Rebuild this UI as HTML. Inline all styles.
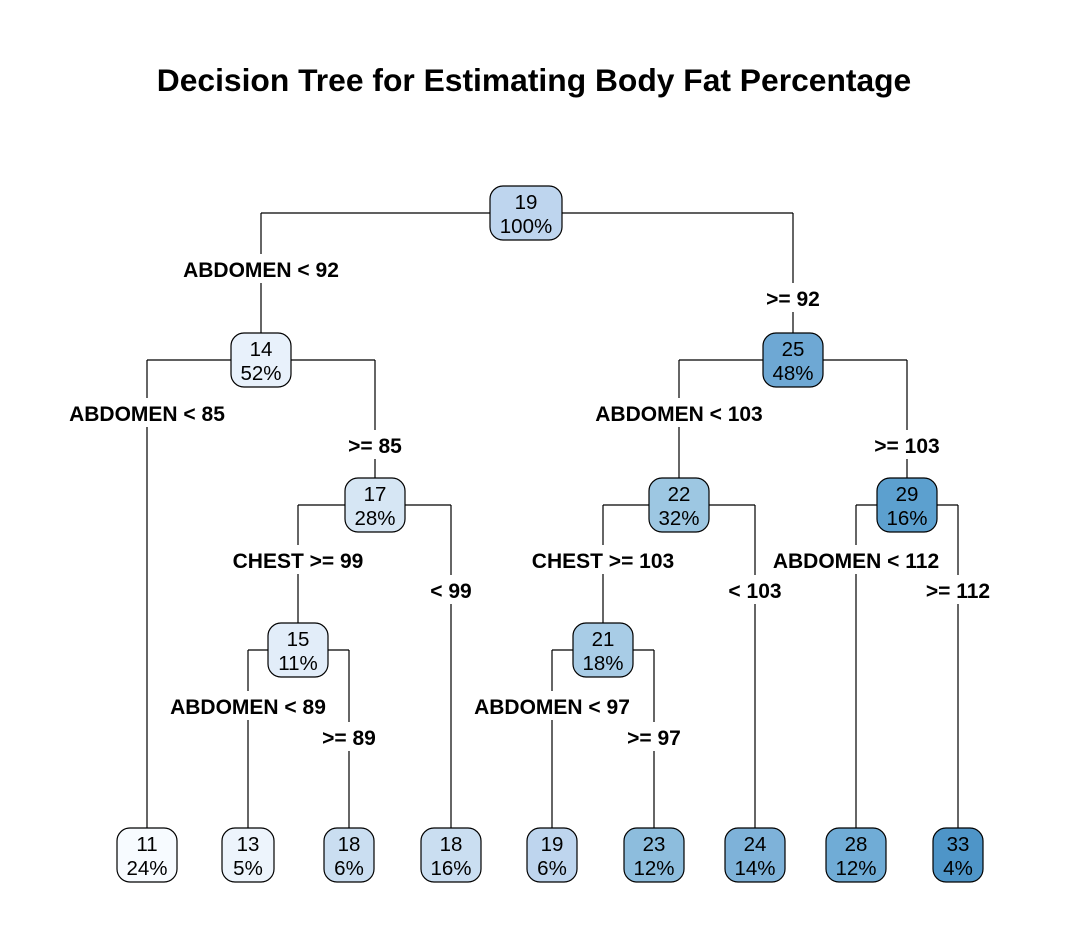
<!DOCTYPE html>
<html><head><meta charset="utf-8">
<style>
html,body{margin:0;padding:0;background:#fff;}
svg{display:block;font-family:"Liberation Sans",Arial,sans-serif;}
</style></head>
<body>
<svg id="chart" width="1066" height="948" viewBox="0 0 1066 948">
<rect width="1066" height="948" fill="#fff"/>
<text x="534" y="91" text-anchor="middle" font-size="31.8" font-weight="bold" fill="#000">Decision Tree for Estimating Body Fat Percentage</text>
<g id="edges"></g><g id="labels"></g><g id="nodes"></g>
</svg>
<script>
// data
const nodeValues = [19, 14, 25, 17, 22, 29, 15, 21, 11, 13, 18, 18, 19, 23, 24, 28, 33];
const nodePcts   = ["100%","52%","48%","28%","32%","16%","11%","18%","24%","5%","6%","16%","6%","12%","14%","12%","4%"];
const nodeParents = [-1, 0, 0, 1, 2, 2, 3, 4, 1, 6, 6, 3, 7, 7, 4, 5, 5];
const splitLeft  = ["ABDOMEN < 92","ABDOMEN < 85","ABDOMEN < 103","CHEST >= 99","CHEST >= 103","ABDOMEN < 112","ABDOMEN < 89","ABDOMEN < 97"];
const splitRight = [">= 92",">= 85",">= 103","< 99","< 103",">= 112",">= 89",">= 97"];
// layout (not data)
const nx = [526,261,793,375,679,907,298,603,147,248,349,451,552,654,755,856,958];
const ny = [213,360,360,505,505,505,650,650,855,855,855,855,855,855,855,855,855];
const nw = [72,60,60,60,60,60,60,60,60,52,50,60,50,60,60,60,50];
const leftLabelY = [270,414,414,561,561,561,707,707];
const rightLabelY = [299,446,446,591,591,591,738,738];
const NH = 54;
const ns = "http://www.w3.org/2000/svg";
function colorFor(v){
  const stops=[[11,[247,251,255]],[14,[232,241,251]],[17,[214,230,244]],[19,[190,213,238]],[22,[157,199,226]],[25,[110,168,212]],[28,[112,172,214]],[29,[92,160,207]],[33,[78,149,200]]];
  for(let i=0;i<stops.length-1;i++){const[a,ca]=stops[i],[b,cb]=stops[i+1];
    if(v<=b){const t=Math.max(0,(v-a)/(b-a));return "rgb("+ca.map((c,k)=>Math.round(c+(cb[k]-c)*t)).join(",")+")";}}
  return "rgb(78,149,200)";
}
const E=document.getElementById("edges"),L=document.getElementById("labels"),N=document.getElementById("nodes");
function line(x1,y1,x2,y2){const l=document.createElementNS(ns,"line");
  l.setAttribute("x1",x1);l.setAttribute("y1",y1);l.setAttribute("x2",x2);l.setAttribute("y2",y2);
  l.setAttribute("stroke","#000");l.setAttribute("stroke-width","1.2");
  
  
  E.appendChild(l);}
for(let p=0;p<8;p++){
  const kids=[];nodeParents.forEach((q,i)=>{if(q===p)kids.push(i);});
  kids.sort((a,b)=>nx[a]-nx[b]);
  const [lc,rc]=kids;
  line(nx[lc],ny[p],nx[rc],ny[p]);
  [[lc,splitLeft[p],leftLabelY[p]],[rc,splitRight[p],rightLabelY[p]]].forEach(([c,txt,ly])=>{
    const top=ny[c]-NH/2;
    line(nx[c],ny[p],nx[c],ly-16);
    line(nx[c],ly+13,nx[c],top);
    const t=document.createElementNS(ns,"text");
    t.setAttribute("x",nx[c]);t.setAttribute("y",ly+7);t.setAttribute("text-anchor","middle");
    t.setAttribute("font-size","21");t.setAttribute("font-weight","bold");
    t.textContent=txt;
    
    
    L.appendChild(t);
  });
}
nodeValues.forEach((v,i)=>{
  const g=document.createElementNS(ns,"g");
  
  
  const r=document.createElementNS(ns,"rect");
  r.setAttribute("x",nx[i]-nw[i]/2);r.setAttribute("y",ny[i]-NH/2);
  r.setAttribute("width",nw[i]);r.setAttribute("height",NH);r.setAttribute("rx",13);
  r.setAttribute("fill",colorFor(v));r.setAttribute("stroke","#000");r.setAttribute("stroke-width","1.2");
  
  
  g.appendChild(r);
  [[String(v),ny[i]-4],[nodePcts[i],ny[i]+20]].forEach(([s,y])=>{
    const t=document.createElementNS(ns,"text");
    t.setAttribute("x",nx[i]);t.setAttribute("y",y);t.setAttribute("text-anchor","middle");
    t.setAttribute("font-size","20.5");t.textContent=s;
    
    
    g.appendChild(t);
  });
  N.appendChild(g);
});
</script>
</body></html>
